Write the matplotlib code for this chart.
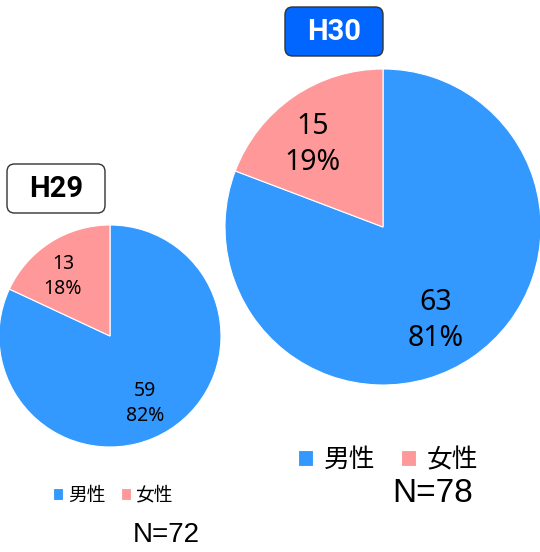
"""
plot.py

Gender split of respondents, H29 vs H30.
"""

import matplotlib
matplotlib.use("Agg")
import matplotlib.pyplot as plt
from matplotlib.patches import FancyBboxPatch

plt.rcParams["font.family"] = ["Noto Sans CJK JP", "DejaVu Sans"]

# ----------------------------------------------------
# Data
# ----------------------------------------------------

genders = ["男性", "女性"]
h29_counts = [59, 13]
h30_counts = [63, 15]
years = ["H29", "H30"]

colors = ["#3399FF", "#FF9999"]


def make_label(counts):
    total = sum(counts)

    def fmt(pct):
        n = int(round(pct * total / 100.0))
        return f"{n}\n{pct:.0f}%"

    return fmt


fig = plt.figure(figsize=(5.4, 5.52), dpi=100)

# ----------------------------------------------------
# Pies
# ----------------------------------------------------

W, H = 540, 552


def pie_axes(cx, cy, r):
    return fig.add_axes([(cx - r) / W, (H - cy - r) / H, 2 * r / W, 2 * r / H])


ax29 = pie_axes(110, 336, 111)
ax30 = pie_axes(383, 227, 158)

wedges29, _, texts29 = ax29.pie(
    h29_counts, colors=colors, startangle=90, counterclock=False,
    autopct=make_label(h29_counts), pctdistance=0.66,
    wedgeprops=dict(linewidth=0.8, edgecolor="white"),
    textprops=dict(fontsize=14, color="black", linespacing=1.3,
                   family=["Noto Sans", "DejaVu Sans"]),
)
wedges30, _, texts30 = ax30.pie(
    h30_counts, colors=colors, startangle=90, counterclock=False,
    autopct=make_label(h30_counts), pctdistance=0.66,
    wedgeprops=dict(linewidth=0.8, edgecolor="white"),
    textprops=dict(fontsize=20.5, color="black", linespacing=1.3,
                   family=["Noto Sans", "DejaVu Sans"]),
)

# nudge the labels a little, like the original
for t in (texts29[1], texts30[1]):
    x, y = t.get_position()
    t.set_position((x - 0.07, y - 0.02))
for t in (texts29[0], texts30[0]):
    x, y = t.get_position()
    t.set_position((x - 0.04, y - 0.05))

for ax in (ax29, ax30):
    ax.set_xlim(-1, 1)
    ax.set_ylim(-1, 1)
    ax.set_aspect("equal")
    ax.axis("off")

# ----------------------------------------------------
# Legends
# ----------------------------------------------------

fig.legend(wedges29, genders, loc="center", bbox_to_anchor=(113 / W, 1 - 495 / H),
           ncol=2, frameon=False, fontsize=13.5, handlelength=0.55, handleheight=0.55,
           handletextpad=0.25, columnspacing=0.8)
fig.legend(wedges30, genders, loc="center", bbox_to_anchor=(388 / W, 1 - 460 / H),
           ncol=2, frameon=False, fontsize=18.5, handlelength=0.6, handleheight=0.6,
           handletextpad=0.4, columnspacing=1.0)

fig.text(166 / W, 1 - 535 / H, "N=72", ha="center", va="center",
         fontsize=20, family="Liberation Sans")
fig.text(433 / W, 1 - 494 / H, "N=78", ha="center", va="center",
         fontsize=24, family="Liberation Sans")

# ----------------------------------------------------
# Year boxes
# ----------------------------------------------------

boxes = [
    (years[0], 7, 164, "white", "black"),
    (years[1], 285, 7, "#0066FF", "white"),
]
for label, x, y, face, tcolor in boxes:
    fig.add_artist(FancyBboxPatch(
        (x / W, 1 - (y + 49) / H), 98 / W, 49 / H,
        boxstyle="round,pad=0,rounding_size=0.014",
        transform=fig.transFigure, facecolor=face, edgecolor="#333333", linewidth=1,
    ))
    fig.text((x + 49) / W, 1 - (y + 25) / H, label, ha="center", va="center",
             fontsize=21, fontweight="bold", color=tcolor,
             family=["Roboto", "DejaVu Sans"])

fig.savefig("out.png", dpi=100)
